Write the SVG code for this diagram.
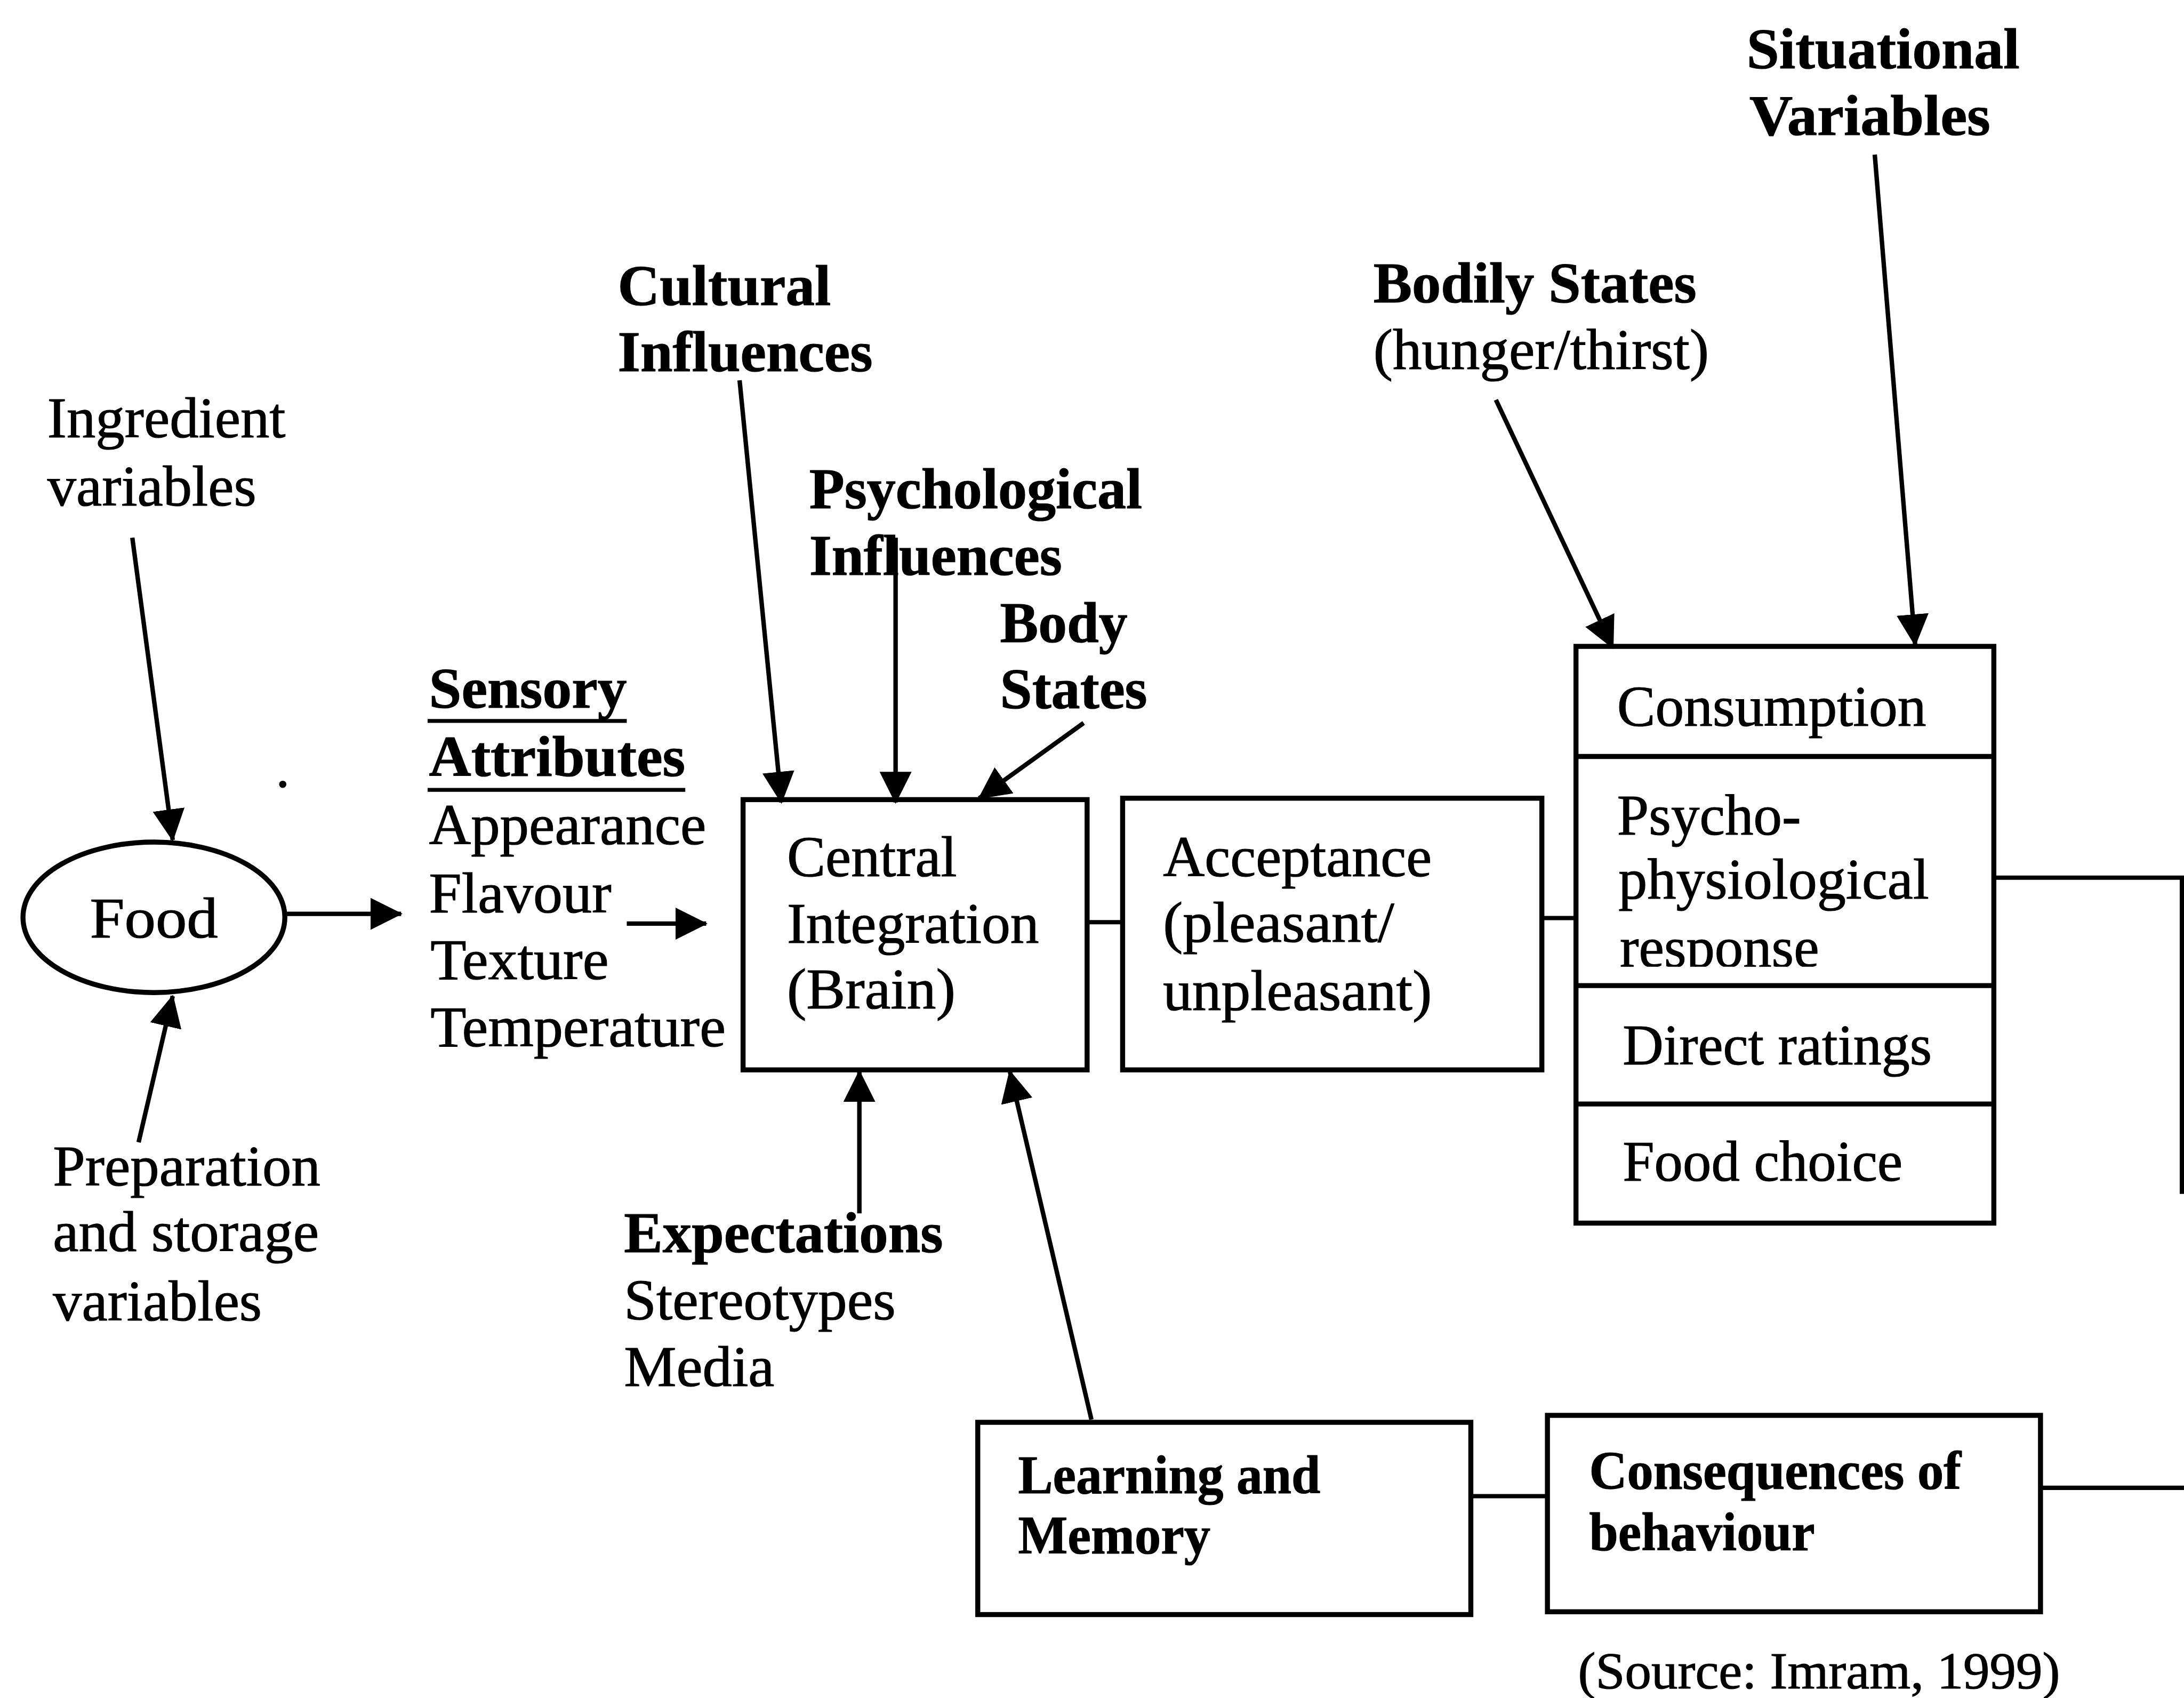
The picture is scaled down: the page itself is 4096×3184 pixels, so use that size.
<svg xmlns="http://www.w3.org/2000/svg" width="4096" height="3184" viewBox="0 0 4096 3184">
  <style>
    text { font-family: "Liberation Serif", "Times New Roman", serif; font-size: 41px; fill: #000; stroke: #000; stroke-width: 0.45px; }
    .b { font-weight: bold; }
    .box { fill: none; stroke: #000; stroke-width: 3.6; }
    .rule { stroke: #000; stroke-width: 2.8; fill: none; }
    .arrow { stroke: #000; stroke-width: 3.2; fill: none; marker-end: url(#ah); }
    .line { stroke: #000; stroke-width: 3.1; fill: none; }
  </style>
  <defs>
    <marker id="ah" viewBox="0 0 23 23" refX="22" refY="11.5" markerWidth="23" markerHeight="23" orient="auto" markerUnits="userSpaceOnUse">
      <path d="M0,0 L23,11.5 L0,23 z" fill="#000"/>
    </marker>
    <clipPath id="respClip">
      <rect x="1140" y="650" width="280" height="44"/>
    </clipPath>
  </defs>
  <rect width="4096" height="3184" fill="#fff"/>

  <!-- whole figure is laid out on a 1568-wide grid and scaled up -->
  <g transform="scale(2.6122)">

    <g id="connectors">
      <path class="arrow" d="M95,386 L124,603"/>
      <path class="arrow" d="M99.5,820 L124,715"/>
      <path class="arrow" d="M206,656 L288,656"/>
      <path class="arrow" d="M450,663 L507,663"/>
      <path class="arrow" d="M531,273 L561,576"/>
      <path class="arrow" d="M643,386 L643,576"/>
      <path class="arrow" d="M778,519 L703,573"/>
      <path class="arrow" d="M1074,287 L1158,465"/>
      <path class="arrow" d="M1346,111 L1375,463"/>
      <path class="arrow" d="M617,871 L617,769"/>
      <path class="arrow" d="M783.6,1019 L725,769"/>
      <path class="line" d="M780,662 L806,662"/>
      <path class="line" d="M1107,659 L1131,659"/>
      <path class="line" d="M1056,1074 L1111,1074"/>
      <path class="line" d="M1431,630 L1566.5,630 L1566.5,857"/>
      <path class="line" d="M1465,1068 L1568,1068"/>
    </g>

    <g id="ingredient">
      <text x="34" y="314" textLength="171" lengthAdjust="spacingAndGlyphs">Ingredient</text>
      <text x="34" y="363" textLength="150" lengthAdjust="spacingAndGlyphs">variables</text>
    </g>

    <g id="preparation">
      <text x="38" y="851" textLength="192" lengthAdjust="spacingAndGlyphs">Preparation</text>
      <text x="38" y="898" textLength="191" lengthAdjust="spacingAndGlyphs">and storage</text>
      <text x="38" y="948" textLength="150" lengthAdjust="spacingAndGlyphs">variables</text>
    </g>

    <g id="food">
      <ellipse cx="110.5" cy="658.5" rx="94" ry="54" class="box"/>
      <text x="64.5" y="673" textLength="92" lengthAdjust="spacingAndGlyphs">Food</text>
    </g>
    <circle cx="203" cy="563" r="2.6" fill="#000"/>

    <g id="sensory">
      <text class="b" x="308" y="508" textLength="142" lengthAdjust="spacingAndGlyphs">Sensory</text>
      <line class="rule" x1="307" y1="517.5" x2="450" y2="517.5"/>
      <text class="b" x="308" y="557" textLength="184" lengthAdjust="spacingAndGlyphs">Attributes</text>
      <line class="rule" x1="307" y1="567" x2="492" y2="567"/>
      <text x="308" y="606" textLength="199" lengthAdjust="spacingAndGlyphs">Appearance</text>
      <text x="308" y="655" textLength="131" lengthAdjust="spacingAndGlyphs">Flavour</text>
      <text x="309" y="703" textLength="128" lengthAdjust="spacingAndGlyphs">Texture</text>
      <text x="309" y="751" textLength="212" lengthAdjust="spacingAndGlyphs">Temperature</text>
    </g>

    <g id="cultural">
      <text class="b" x="443.5" y="219" textLength="153" lengthAdjust="spacingAndGlyphs">Cultural</text>
      <text class="b" x="443.5" y="266.5" textLength="183" lengthAdjust="spacingAndGlyphs">Influences</text>
    </g>

    <g id="psychological">
      <text class="b" x="581" y="365" textLength="239" lengthAdjust="spacingAndGlyphs">Psychological</text>
      <text class="b" x="581" y="412.5" textLength="181.5" lengthAdjust="spacingAndGlyphs">Influences</text>
    </g>

    <g id="body-states">
      <text class="b" x="718" y="461" textLength="91.5" lengthAdjust="spacingAndGlyphs">Body</text>
      <text class="b" x="718" y="508.5" textLength="105.7" lengthAdjust="spacingAndGlyphs">States</text>
    </g>

    <g id="central">
      <rect class="box" x="533.5" y="574" width="247" height="194"/>
      <text x="565" y="629" textLength="122" lengthAdjust="spacingAndGlyphs">Central</text>
      <text x="565" y="677" textLength="181" lengthAdjust="spacingAndGlyphs">Integration</text>
      <text x="565" y="724" textLength="121" lengthAdjust="spacingAndGlyphs">(Brain)</text>
    </g>

    <g id="acceptance">
      <rect class="box" x="806" y="573" width="301" height="195"/>
      <text x="835" y="629" textLength="193" lengthAdjust="spacingAndGlyphs">Acceptance</text>
      <text x="835" y="676" textLength="166" lengthAdjust="spacingAndGlyphs">(pleasant/</text>
      <text x="835" y="725" textLength="193" lengthAdjust="spacingAndGlyphs">unpleasant)</text>
    </g>

    <g id="bodily-states">
      <text class="b" x="986" y="217" textLength="232" lengthAdjust="spacingAndGlyphs">Bodily States</text>
      <text x="986" y="265" textLength="241" lengthAdjust="spacingAndGlyphs">(hunger/thirst)</text>
    </g>

    <g id="situational">
      <text class="b" x="1254" y="49" textLength="196" lengthAdjust="spacingAndGlyphs">Situational</text>
      <text class="b" x="1256" y="97" textLength="173" lengthAdjust="spacingAndGlyphs">Variables</text>
    </g>

    <g id="measures">
      <rect class="box" x="1131.5" y="464" width="300" height="414"/>
      <line class="box" x1="1131.5" y1="543" x2="1431.5" y2="543"/>
      <line class="box" x1="1131.5" y1="707.5" x2="1431.5" y2="707.5"/>
      <line class="box" x1="1131.5" y1="792.5" x2="1431.5" y2="792.5"/>
      <text x="1161" y="521" textLength="222" lengthAdjust="spacingAndGlyphs">Consumption</text>
      <text x="1161" y="599" textLength="132" lengthAdjust="spacingAndGlyphs">Psycho-</text>
      <text x="1162" y="645" textLength="223" lengthAdjust="spacingAndGlyphs">physiological</text>
      <text x="1163" y="694" textLength="143" lengthAdjust="spacingAndGlyphs" clip-path="url(#respClip)">response</text>
      <text x="1165" y="764" textLength="222" lengthAdjust="spacingAndGlyphs">Direct ratings</text>
      <text x="1165" y="847.5" textLength="201" lengthAdjust="spacingAndGlyphs">Food choice</text>
    </g>

    <g id="expectations">
      <text class="b" x="448" y="899" textLength="229" lengthAdjust="spacingAndGlyphs">Expectations</text>
      <text x="448" y="947" textLength="195" lengthAdjust="spacingAndGlyphs">Stereotypes</text>
      <text x="448" y="995" textLength="108" lengthAdjust="spacingAndGlyphs">Media</text>
    </g>

    <g id="learning">
      <rect class="box" x="702" y="1021" width="354" height="138"/>
      <text class="b" x="731" y="1072" style="font-size:39px" textLength="217" lengthAdjust="spacingAndGlyphs">Learning and</text>
      <text class="b" x="731" y="1115" style="font-size:39px" textLength="138" lengthAdjust="spacingAndGlyphs">Memory</text>
    </g>

    <g id="consequences">
      <rect class="box" x="1111" y="1016" width="354" height="141"/>
      <text class="b" x="1141" y="1069" style="font-size:39px" textLength="267" lengthAdjust="spacingAndGlyphs">Consequences of</text>
      <text class="b" x="1141" y="1113" style="font-size:39px" textLength="162" lengthAdjust="spacingAndGlyphs">behaviour</text>
    </g>

    <g id="source">
      <text x="1133" y="1212" style="font-size:37px" textLength="346" lengthAdjust="spacingAndGlyphs">(Source: Imram, 1999)</text>
    </g>
  </g>
</svg>
